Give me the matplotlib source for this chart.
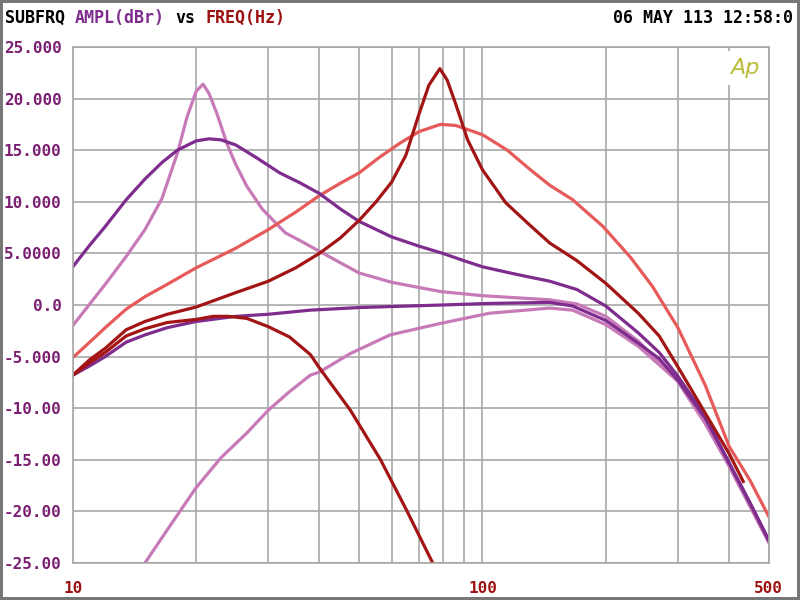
import numpy as np
import matplotlib
matplotlib.use("Agg")
import matplotlib.pyplot as plt
from matplotlib.ticker import FixedLocator, NullFormatter

freq_a = [10, 11, 12, 13.5, 15, 16.5, 18, 20, 21.5, 23, 25, 28, 32, 36, 40, 45, 50, 60,
          70, 80, 90, 100, 120, 146, 170, 200, 240, 270, 300, 350, 400, 450, 500]
ampl_a = [3.7, 5.8, 7.6, 10.2, 12.2, 13.8, 15.0, 15.9, 16.1, 16.0, 15.5, 14.3, 12.8, 11.8,
          10.8, 9.3, 8.1, 6.6, 5.7, 5.0, 4.3, 3.7, 3.0, 2.3, 1.5, -0.1, -2.7, -4.6, -6.9,
          -10.8, -15.3, -19.2, -22.8]

freq_b = [10, 11, 12, 13.5, 15, 16.5, 18, 19, 20, 20.8, 21.5, 22.5, 23.8, 25, 26.6, 29, 33,
          36, 40, 50, 60, 79, 100, 146, 170, 200, 240, 300, 350, 400, 450, 500]
ampl_b = [-2.0, 0.1, 2.0, 4.7, 7.3, 10.3, 14.7, 18.2, 20.7, 21.4, 20.5, 18.5, 15.6, 13.6,
          11.5, 9.3, 7.0, 6.2, 5.2, 3.1, 2.2, 1.3, 0.9, 0.5, 0.1, -1.1, -3.5, -7.4, -11.5,
          -15.6, -19.5, -23.0]

freq_c = [10, 11, 12, 13.5, 15, 17, 20, 25, 30, 35, 40, 45, 50, 56, 63, 70, 79, 86, 92,
          100, 115, 130, 146, 166, 197, 230, 260, 300, 350, 400, 450, 500]
ampl_c = [-5.1, -3.6, -2.2, -0.4, 0.8, 2.0, 3.6, 5.5, 7.3, 9.0, 10.6, 11.8, 12.8, 14.3,
          15.7, 16.8, 17.5, 17.4, 17.0, 16.5, 15.0, 13.2, 11.6, 10.2, 7.6, 4.6, 1.8, -2.2,
          -7.8, -13.7, -17.0, -20.5]

freq_d = [10, 11, 12, 13.5, 15, 17, 20, 25, 30, 35, 40, 45, 50, 55, 60, 65, 70, 74, 78.7,
          82, 86, 92, 100, 114, 130, 146, 170, 200, 240, 270, 300, 350, 400, 433]
ampl_d = [-6.8, -5.3, -4.2, -2.4, -1.6, -0.9, -0.2, 1.2, 2.3, 3.6, 5.0, 6.5, 8.2, 10.0,
          11.9, 14.5, 18.5, 21.3, 22.9, 21.8, 19.5, 16.0, 13.1, 9.9, 7.8, 6.0, 4.3, 2.1,
          -0.8, -3.0, -6.0, -10.5, -14.4, -17.1]

freq_e = [10, 11, 12, 13.5, 15, 17, 20, 22, 24, 26.6, 30, 33.8, 38, 40, 47.6, 56.4, 65.3, 75.6]
ampl_e = [-6.8, -5.6, -4.6, -3.0, -2.3, -1.7, -1.4, -1.1, -1.1, -1.3, -2.1, -3.1, -4.8,
          -6.1, -10.2, -15.0, -19.9, -25.0]

freq_f = [10, 11, 12, 13.5, 15, 17, 20, 25, 30, 38, 50, 60, 80, 104, 146, 166, 200, 240,
          270, 300, 350, 400, 450, 500]
ampl_f = [-6.8, -5.9, -5.0, -3.6, -2.9, -2.2, -1.6, -1.1, -0.9, -0.5, -0.25, -0.15, 0.0,
          0.15, 0.25, -0.1, -1.5, -3.7, -5.2, -7.3, -11.0, -15.3, -19.2, -22.8]

freq_g = [15, 17, 20, 23, 26.6, 30, 33.8, 38, 40, 47.6, 59.5, 78.7, 104, 146, 166, 200,
          240, 300, 350, 400, 450, 500]
ampl_g = [-25.0, -21.8, -17.7, -14.8, -12.4, -10.2, -8.4, -6.8, -6.5, -4.7, -2.9, -1.8,
          -0.8, -0.3, -0.5, -1.9, -4.0, -7.4, -11.5, -15.6, -19.5, -23.0]

y_ticks = [25, 20, 15, 10, 5, 0, -5, -10, -15, -20, -25]
y_labels = ["25.000", "20.000", "15.000", "10.000", "5.0000", "0.0",
            "-5.000", "-10.00", "-15.00", "-20.00", "-25.00"]
x_ticks = [10, 100, 500]
x_labels = ["10", "100", "500"]
x_minor = [20, 30, 40, 50, 60, 70, 80, 90, 200, 300, 400]

purple = "#7e2c8e"
pink = "#c77ab7"
salmon = "#e65a5a"
darkred = "#a31515"
grid_c = "#a8a8a8"
mono = "DejaVu Sans Mono"

fig = plt.figure(figsize=(8, 6), dpi=100, edgecolor="#777777", linewidth=3)
ax = fig.add_axes([0.091, 0.0617, 0.870, 0.860])

lw = 2.3
ax.plot(freq_b, ampl_b, color=pink, lw=lw)
ax.plot(freq_g, ampl_g, color=pink, lw=lw)
ax.plot(freq_c, ampl_c, color=salmon, lw=lw)
ax.plot(freq_a, ampl_a, color=purple, lw=lw)
ax.plot(freq_f, ampl_f, color=purple, lw=lw)
ax.plot(freq_d, ampl_d, color=darkred, lw=lw)
ax.plot(freq_e, ampl_e, color=darkred, lw=lw)

ax.set_xscale("log")
ax.set_xlim(10, 500)
ax.set_ylim(-25, 25)
ax.set_axisbelow(True)

ax.xaxis.set_major_locator(FixedLocator(x_ticks))
ax.xaxis.set_minor_locator(FixedLocator(x_minor))
ax.xaxis.set_minor_formatter(NullFormatter())
ax.set_xticklabels(x_labels)
ax.set_yticks(y_ticks)
ax.set_yticklabels(y_labels)

ax.grid(True, which="both", color=grid_c, lw=1.2)
ax.tick_params(axis="both", which="both", length=0)
ax.tick_params(axis="y", pad=8, labelcolor="#7a1f72", labelsize=11.5)
ax.tick_params(axis="x", pad=13, labelcolor="#9c1010", labelsize=11.5)
for lab in ax.get_xticklabels() + ax.get_yticklabels():
    lab.set_family(mono)
    lab.set_weight("bold")
for sp in ax.spines.values():
    sp.set_color(grid_c)
    sp.set_linewidth(1.2)

# Ap logo with a white patch over the grid
ax.text(0.965, 0.96, "Ap", transform=ax.transAxes, ha="center", va="center",
        fontsize=16, style="italic", weight="light", color="#bcbc3a",
        family="DejaVu Sans",
        bbox=dict(facecolor="white", edgecolor="none", pad=5), zorder=1)

# header, monospace so pieces line up by character count
cw = 0.602 * 12 * 100 / 72 / 800
x0 = 5 / 800
yh = 1 - 18 / 600
parts = [("SUBFRQ", 0, "black"), ("AMPL(dBr)", 7, purple), ("vs", 17, "black"),
         ("FREQ(Hz)", 20, "#9c1010")]
for txt, off, col in parts:
    fig.text(x0 + off * cw, yh, txt, color=col, fontsize=12, family=mono,
             weight="bold", va="center", ha="left")
fig.text(793 / 800, yh, "06 MAY 113 12:58:0", color="black", fontsize=12,
         family=mono, weight="bold", va="center", ha="right")

fig.savefig("out.png", dpi=100, edgecolor=fig.get_edgecolor())
